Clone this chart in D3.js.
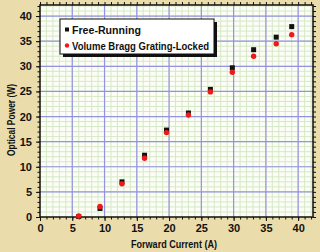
<!DOCTYPE html>
<html>
<head>
<meta charset="utf-8">
<script src="https://cdn.jsdelivr.net/npm/d3@7"></script>
<style>
  html, body { margin: 0; padding: 0; background: #ebdcab; }
  svg { display: block; }
  text { font-family: "Liberation Sans", Arial, sans-serif; font-weight: bold; fill: #111; }
</style>
</head>
<body>
<div id="chart"></div>
<script>
// forward current (A) and optical power (W)
var current = [6.0, 9.3, 12.7, 16.2, 19.6, 23.0, 26.4, 29.8, 33.1, 36.6, 39.0];
var freeRunning = [0.1, 1.7, 7.0, 12.3, 17.3, 20.7, 25.4, 29.7, 33.3, 35.8, 37.9];
var vbgLocked = [0.2, 2.1, 6.6, 11.7, 16.8, 20.3, 24.9, 28.8, 32.0, 34.5, 36.3];
var majorTicks = [0, 5, 10, 15, 20, 25, 30, 35, 40];
var seriesNames = ['Free-Running', 'Volume Bragg Grating-Locked'];

var width = 320, height = 252;
var margin = {top: 5, right: 7, bottom: 35, left: 40};
var w = width - margin.left - margin.right,
    h = height - margin.top - margin.bottom;

var svg = d3.select('#chart').append('svg')
  .attr('width', width)
  .attr('height', height);

svg.append('rect')
  .attr('width', width).attr('height', height)
  .attr('fill', '#ebdcab');

var g = svg.append('g')
  .attr('transform', 'translate(' + margin.left + ',' + margin.top + ')');

var x = d3.scaleLinear().domain([0, 42.3]).range([0, w]);
var y = d3.scaleLinear().domain([0, 42.2]).range([h, 0]);

g.append('rect')
  .attr('width', w).attr('height', h)
  .attr('fill', '#fbfdf6');

var minor = d3.range(0, 43, 1);

// minor grid
g.append('g').selectAll('line.mx').data(minor).enter().append('line')
  .attr('x1', function (d) { return x(d); }).attr('x2', function (d) { return x(d); })
  .attr('y1', 0).attr('y2', h)
  .attr('stroke', '#d6e8c6').attr('stroke-width', 1);
g.append('g').selectAll('line.my').data(minor).enter().append('line')
  .attr('y1', function (d) { return y(d); }).attr('y2', function (d) { return y(d); })
  .attr('x1', 0).attr('x2', w)
  .attr('stroke', '#d6e8c6').attr('stroke-width', 1);

// major grid
g.append('g').selectAll('line').data(majorTicks.slice(1)).enter().append('line')
  .attr('x1', function (d) { return x(d); }).attr('x2', function (d) { return x(d); })
  .attr('y1', 0).attr('y2', h)
  .attr('stroke', '#9494de').attr('stroke-width', 1.2);
g.append('g').selectAll('line').data(majorTicks.slice(1)).enter().append('line')
  .attr('y1', function (d) { return y(d); }).attr('y2', function (d) { return y(d); })
  .attr('x1', 0).attr('x2', w)
  .attr('stroke', '#9494de').attr('stroke-width', 1.2);

// axes: minor ticks, then major ticks with labels
function styleAxis(sel) {
  sel.select('.domain').remove();
  sel.selectAll('.tick line').attr('stroke', '#111').attr('stroke-width', 1);
  sel.selectAll('.tick text').style('font-size', '11px').attr('fill', '#111');
}

g.append('g').attr('transform', 'translate(0,' + h + ')')
  .call(d3.axisBottom(x).tickValues(minor).tickSize(2.5).tickFormat('')).call(styleAxis);
g.append('g').attr('transform', 'translate(0,' + h + ')')
  .call(d3.axisBottom(x).tickValues(majorTicks).tickSize(4).tickPadding(3).tickFormat(d3.format('d'))).call(styleAxis);
g.append('g')
  .call(d3.axisLeft(y).tickValues(minor).tickSize(2.5).tickFormat('')).call(styleAxis);
g.append('g')
  .call(d3.axisLeft(y).tickValues(majorTicks).tickSize(4).tickPadding(4).tickFormat(d3.format('d'))).call(styleAxis);
g.append('g')
  .call(d3.axisTop(x).tickValues(minor).tickSize(3).tickFormat('')).call(styleAxis);
g.append('g').attr('transform', 'translate(' + w + ',0)')
  .call(d3.axisRight(y).tickValues(minor).tickSize(3).tickFormat('')).call(styleAxis);

// frame
g.append('rect')
  .attr('width', w).attr('height', h)
  .attr('fill', 'none').attr('stroke', '#111').attr('stroke-width', 1.5);

// markers
var pts = current.map(function (c, i) { return {c: c, f: freeRunning[i], v: vbgLocked[i]}; });

g.append('g').selectAll('rect').data(pts).enter().append('rect')
  .attr('x', function (d) { return x(d.c) - 2.5; })
  .attr('y', function (d) { return y(d.f) - 2.5; })
  .attr('width', 5).attr('height', 5)
  .attr('fill', '#111');

g.append('g').selectAll('circle').data(pts).enter().append('circle')
  .attr('cx', function (d) { return x(d.c); })
  .attr('cy', function (d) { return y(d.v); })
  .attr('r', 2.7)
  .attr('fill', '#f01818');

// legend
var lg = svg.append('g').attr('transform', 'translate(60,19)');
lg.append('rect').attr('x', 3).attr('y', 3).attr('width', 154).attr('height', 35).attr('fill', '#111');
lg.append('rect').attr('width', 154).attr('height', 35)
  .attr('fill', '#fff').attr('stroke', '#111').attr('stroke-width', 1);
lg.append('rect').attr('x', 5).attr('y', 8.5).attr('width', 4).attr('height', 4).attr('fill', '#111');
lg.append('circle').attr('cx', 7).attr('cy', 26.5).attr('r', 2.2).attr('fill', '#f01818');
lg.append('text').attr('x', 12).attr('y', 14.5).style('font-size', '11px')
  .attr('textLength', 69).attr('lengthAdjust', 'spacingAndGlyphs').text(seriesNames[0]);
lg.append('text').attr('x', 12).attr('y', 31).style('font-size', '11px')
  .attr('textLength', 137).attr('lengthAdjust', 'spacingAndGlyphs').text(seriesNames[1]);

// axis titles
svg.append('text')
  .attr('x', 174).attr('y', 248)
  .attr('text-anchor', 'middle')
  .style('font-size', '11px')
  .attr('textLength', 86).attr('lengthAdjust', 'spacingAndGlyphs')
  .text('Forward Current (A)');

svg.append('text')
  .attr('transform', 'translate(15,120) rotate(-90)')
  .attr('text-anchor', 'middle')
  .style('font-size', '11px')
  .attr('textLength', 72).attr('lengthAdjust', 'spacingAndGlyphs')
  .text('Optical Power (W)');
</script>
</body>
</html>
